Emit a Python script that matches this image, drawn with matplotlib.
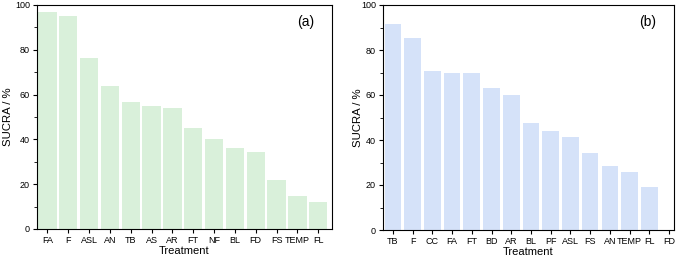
import matplotlib.pyplot as plt
import numpy as np
from matplotlib.ticker import MultipleLocator

plt.rcParams['font.family'] = ['Liberation Sans', 'DejaVu Sans']

labels_a = ['FA', 'F', 'ASL', 'AN', 'TB', 'AS', 'AR', 'FT', 'NF', 'BL', 'FD', 'FS', 'TEMP', 'FL']
sucra_a = [96.9, 95.2, 76.3, 63.8, 56.7, 54.9, 54.0, 45.1, 40.0, 36.2, 34.4, 22.0, 14.7, 12.2]

labels_b = ['TB', 'F', 'CC', 'FA', 'FT', 'BD', 'AR', 'BL', 'PF', 'ASL', 'FS', 'AN', 'TEMP', 'FL', 'FD']
sucra_b = [91.7, 85.3, 70.5, 70.0, 69.7, 62.9, 60.1, 47.6, 44.1, 41.5, 34.4, 28.5, 25.8, 19.3, 0.0]

fig = plt.figure(figsize=(6.85, 2.63), dpi=100)
ax1 = fig.add_axes([37/685, 1 - 229/263, 295/685, 224/263])
ax2 = fig.add_axes([383/685, 1 - 230/263, 291/685, 225/263])

def panel(ax, labels, vals, color, tag, width, right, ylab_x):
    x = np.arange(len(labels))
    ax.bar(x, vals, width=width, color=color, edgecolor='none')
    ax.set_xticks(x)
    ax.set_xticklabels(labels)
    ax.set_xlim(-0.5, len(labels) - 1 + right)
    ax.set_ylim(0, 100)
    ax.yaxis.set_major_locator(MultipleLocator(20))
    ax.yaxis.set_minor_locator(MultipleLocator(10))
    ax.tick_params(axis='both', direction='out', length=3, width=0.8, labelsize=6.5, pad=2)
    ax.tick_params(axis='y', which='minor', direction='out', length=2, width=0.6)
    for s in ax.spines.values():
        s.set_linewidth(0.8)
    ax.set_xlabel('Treatment', fontsize=8, labelpad=1)
    ax.set_ylabel('SUCRA / %', fontsize=8.2)
    ax.yaxis.set_label_coords(ylab_x, 0.5)
    ax.text(0.91, 0.925, tag, transform=ax.transAxes, fontsize=10, ha='center', va='center')

panel(ax1, labels_a, sucra_a, '#d9f0da', '(a)', 0.88, 0.66, -0.083)
panel(ax2, labels_b, sucra_b, '#d5e2f9', '(b)', 0.84, 0.25, -0.07)

fig.savefig('out.png', dpi=100)
